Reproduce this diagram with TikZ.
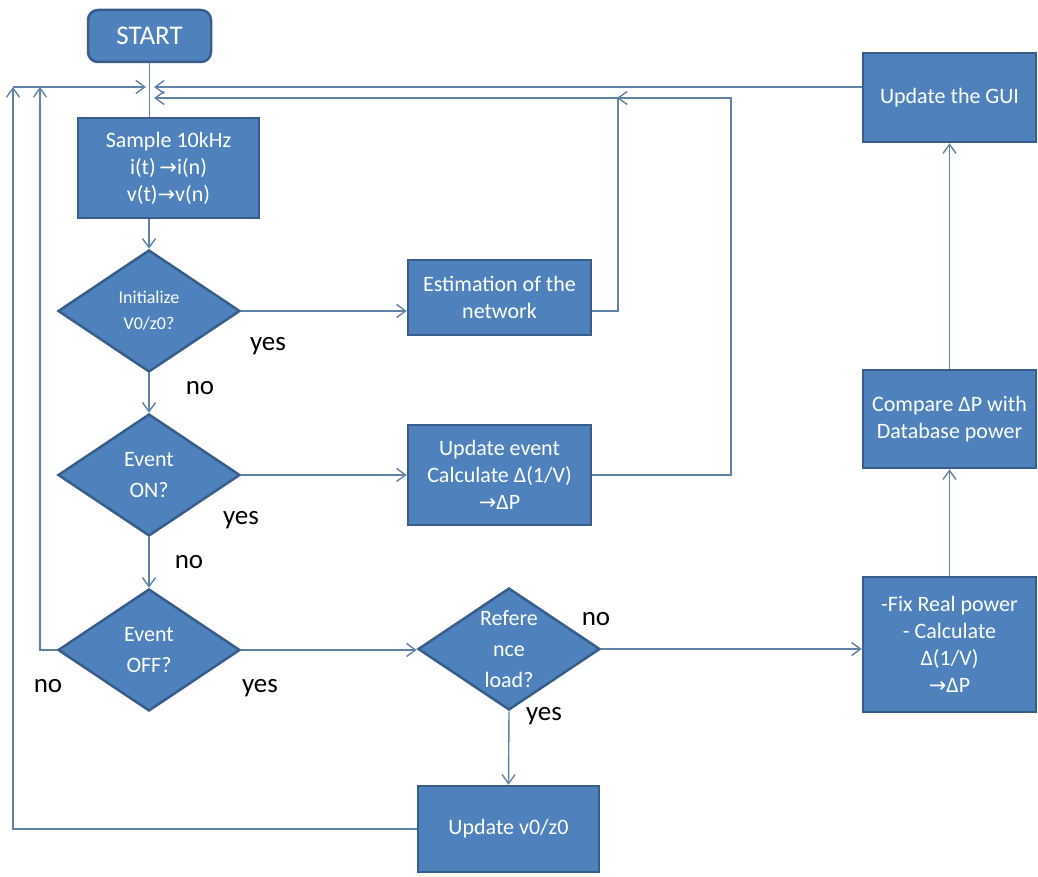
\documentclass[tikz,border=0pt]{standalone}
\usepackage{fontspec}
\setmainfont{Carlito}
\newfontfamily\arrowfont{DejaVu Sans}
\usepackage{tikz}
\usetikzlibrary{shapes.geometric,arrows.meta}
\definecolor{boxblue}{RGB}{79,129,189}
\definecolor{boxedge}{RGB}{56,93,138}
\definecolor{linkc}{RGB}{96,130,168}
\newcommand{\ra}{{\arrowfont\fontsize{21}{21}\selectfont →}}
\tikzstyle{blk} = [rectangle, fill=boxblue, draw=boxedge, line width=2.5pt, text=white, align=center, inner sep=2pt, font=\fontsize{22}{27}\selectfont]
\tikzstyle{check} = [diamond, aspect=1.5, fill=boxblue, draw=boxedge, line width=2.5pt, text=white, align=center, inner sep=0pt, minimum width=182pt, minimum height=122pt, font=\fontsize{22}{31}\selectfont]
\tikzstyle{arrow} = [line width=1.4pt, draw=linkc, -{Straight Barb[length=9pt,width=13pt]}]
\tikzstyle{line} = [line width=1.4pt, draw=linkc]
\tikzstyle{lbl} = [font=\fontsize{27}{27}\selectfont, text=black, inner sep=0pt]

\begin{document}
\begin{tikzpicture}[x=1pt, y=-1pt]
\useasboundingbox (0,0) rectangle (1038,877);

% main column
\node(st) [blk, rounded corners=10pt, minimum width=123pt, minimum height=52pt, font=\fontsize{27}{27}\selectfont] at (149.5,36) {START};
\node(sm) [blk, minimum width=181pt, minimum height=100pt] at (168.5,168) {Sample 10kHz\\i(t)\,\ra i(n)\\v(t)\ra v(n)};
\node(d1) [check, font=\fontsize{18}{26}\selectfont] at (149,311) {Initialize\\V0/z0?};
\node(d2) [check] at (149,475) {Event\\ON?};
\node(d3) [check] at (149,650) {Event\\OFF?};

% middle column
\node(est) [blk, minimum width=183pt, minimum height=75pt] at (499.5,297.5) {Estimation of the\\network};
\node(upd) [blk, minimum width=183pt, minimum height=100pt] at (499.5,475) {Update event\\Calculate Δ(1/V)\\\ra ΔP};
\node(ref) [check] at (509,649) {Refere\\nce\\load?};
\node(uv) [blk, minimum width=181pt, minimum height=86pt] at (508.5,829) {Update v0/z0};

% right column
\node(gui) [blk, minimum width=173pt, minimum height=89pt] at (949.5,97.5) {Update the GUI};
\node(cmp) [blk, minimum width=173pt, minimum height=98pt] at (949.5,419) {Compare ΔP with\\Database power};
\node(fix) [blk, minimum width=173pt, minimum height=135pt] at (949.5,644.5) {-Fix Real power\\- Calculate\\Δ(1/V)\\\ra ΔP};

% labels
\node(y1) [lbl] at (268,346) {yes};
\node(n1) [lbl] at (200,388) {no};
\node(y2) [lbl] at (241,520) {yes};
\node(n2) [lbl] at (189,562) {no};
\node(y3) [lbl] at (260,688) {yes};
\node(n3) [lbl] at (48,686) {no};
\node(n4) [lbl] at (596,619) {no};
\node(y4) [lbl] at (544,716) {yes};

% joints of the loops
\coordinate (jE) at (618,98);
\coordinate (jU) at (731,98);
\coordinate (inR) at (154,98);
\coordinate (inR1) at (154,87);
\coordinate (inL) at (146,87);
\coordinate (lA) at (13,87);
\coordinate (lB) at (40,87);

\draw [line] (st.south) -- (st.south |- sm.north);
\draw [arrow] (d1.north |- sm.south) -- (d1.north);
\draw [arrow] (d1.south) -- (d2.north);
\draw [arrow] (d2.south) -- (d3.north);
\draw [arrow] (d1.east) -- (d1.east -| est.west);
\draw [arrow] (d1.east -| est.east) -| (jE) -- ++(-1,0);
\draw [arrow] (d2.east) -- (upd.west);
\draw [arrow] (upd.east) -| (jU) -- (inR);
\draw [arrow] (gui.west |- inR1) -- (inR1);
\draw [arrow] (d3.east) -- (d3.east -| ref.west);
\draw [arrow] (d3.west) -| (lB);
\draw [arrow] (lA) -- (inL);
\draw [arrow] (ref.east) -- (ref.east -| fix.west);
\draw [arrow] (ref.south) -- (uv.north);
\draw [arrow] (uv.west) -| (lA);
\draw [arrow] (fix.north) -- (cmp.south);
\draw [arrow] (cmp.north) -- (gui.south);
\end{tikzpicture}
\end{document}
